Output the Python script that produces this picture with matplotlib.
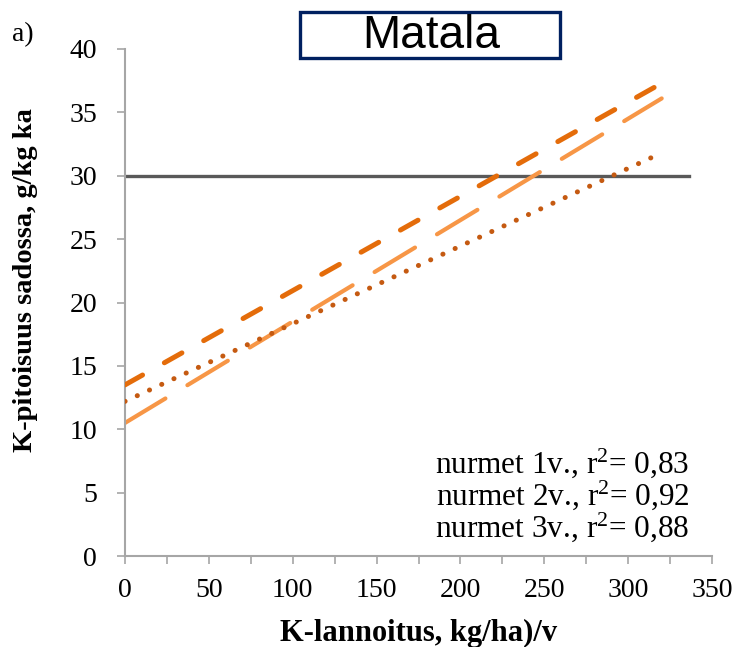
import matplotlib
matplotlib.use('Agg')
import numpy as np
import matplotlib.pyplot as plt
from matplotlib.patches import Rectangle
from matplotlib.ticker import MultipleLocator

# Fitted lines: K content (g/kg DM) vs K fertilisation, read at both ends
x_1v = [0, 320]
y_1v = [13.5, 37.3]
x_2v = [0, 320]
y_2v = [10.5, 36.1]
x_3v = [0, 315]
y_3v = [12.2, 31.5]

limit_x = [0, 336]
limit_y = [30, 30]

r2_labels = ['nurmet 1v., r$^{2}$= 0,83',
             'nurmet 2v., r$^{2}$= 0,92',
             'nurmet 3v., r$^{2}$= 0,88']

plt.rcParams['lines.scale_dashes'] = False
plt.rcParams['mathtext.fontset'] = 'custom'
plt.rcParams['mathtext.rm'] = 'Liberation Serif'
plt.rcParams['mathtext.it'] = 'Liberation Serif:italic'
plt.rcParams['mathtext.bf'] = 'Liberation Serif:bold'
serif = ['Liberation Serif', 'DejaVu Serif']

fig = plt.figure(figsize=(7.37, 6.47), dpi=100)
ax = fig.add_axes([125 / 737, 91 / 647, 587 / 737, 507 / 647])

ax.plot(limit_x, limit_y, '-', color='#595959', linewidth=2.4, zorder=1)
ax.plot(x_1v, y_1v, color='#E46C0A', linewidth=3.6,
        linestyle=(0, (14.5, 18)), dash_capstyle='round', zorder=3)
ax.plot(x_2v, y_2v, color='#F79646', linewidth=3.0,
        linestyle=(0, (34, 18.5)), dash_capstyle='round', zorder=2)
ax.plot(x_3v, y_3v, color='#C55A11', linewidth=3.6,
        linestyle=(0, (0.1, 9.6)), dash_capstyle='round', zorder=3)

ax.set_xlim(0, 350)
ax.set_ylim(0, 40)
ax.xaxis.set_major_locator(MultipleLocator(50))
ax.xaxis.set_minor_locator(MultipleLocator(25))
ax.yaxis.set_major_locator(MultipleLocator(5))

for side in ['top', 'right']:
    ax.spines[side].set_visible(False)
for side in ['left', 'bottom']:
    ax.spines[side].set_color('#A6A6A6')
    ax.spines[side].set_linewidth(1.5)

ax.tick_params(axis='both', which='both', direction='out', color='#A6A6A6',
               width=1.2, length=6, labelcolor='black')
ax.tick_params(axis='x', which='major', pad=10)
ax.tick_params(axis='y', which='major', pad=14)
for lab in ax.get_xticklabels() + ax.get_yticklabels():
    lab.set_fontfamily(serif)
    lab.set_fontsize(20)

ax.set_xlabel('K-lannoitus, kg/ha)/v', fontfamily=serif, fontsize=22,
              fontweight='bold')
ax.xaxis.set_label_coords(0.5, -0.125)
ax.set_ylabel('K-pitoisuus sadossa, g/kg ka', fontfamily=serif, fontsize=20.5,
              fontweight='bold')
ax.yaxis.set_label_coords((38 - 125) / 587, 0.544)

for i, txt in enumerate(r2_labels):
    ax.text(0.962, 0.183 - i * 0.063, txt, transform=ax.transAxes,
            ha='right', va='center', fontfamily=serif, fontsize=22.5)

# title box
fig.add_artist(Rectangle((300 / 737, 1 - 58 / 647), 260 / 737, 46 / 647,
                         transform=fig.transFigure, facecolor='white',
                         edgecolor='#002060', linewidth=2.4))
fig.text(431 / 737, 1 - 36 / 647, 'Matala', ha='center', va='center',
         fontfamily=['Liberation Sans', 'DejaVu Sans'], fontsize=33)
fig.text(12 / 737, 1 - 35 / 647, 'a)', ha='left', va='center',
         fontfamily=serif, fontsize=20)

plt.savefig('out.png', dpi=100)
plt.close()
